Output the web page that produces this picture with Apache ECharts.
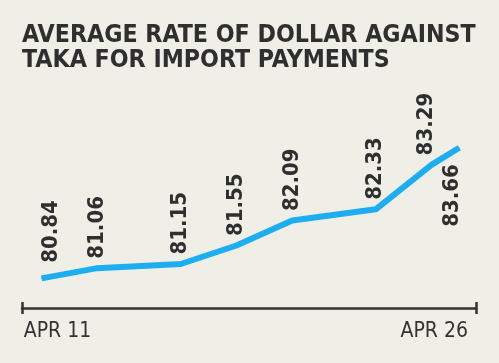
<!DOCTYPE html>
<html><head><meta charset="utf-8">
<script src="https://cdn.jsdelivr.net/npm/echarts@6/dist/echarts.min.js"></script>
<style>html,body{margin:0;padding:0;background:#efeee7;}#c{width:499px;height:363px;}</style>
</head><body><div id="c"></div>
<script>
// Day of April for each observation
const days = [11, 13, 16, 18, 20, 23, 25, 26];
const rates = [80.84, 81.06, 81.15, 81.55, 82.09, 82.33, 83.29, 83.66];
const tickDays = [11, 26];
const tickLabels = ['APR 11', 'APR 26'];
const titleText = 'AVERAGE RATE OF DOLLAR AGAINST\nTAKA FOR IMPORT PAYMENTS';

const FONT = '"DejaVu Sans Condensed","Liberation Sans Narrow",sans-serif';
const chart = echarts.init(document.getElementById('c'), null, {renderer: 'canvas'});

const data = days.map((d, i) => {
  const item = {value: [d, rates[i]]};
  if (i === 0) item.label = {offset: [6, 10]};
  if (i === days.length - 2) item.label = {offset: [0, -5]};
  if (i === days.length - 1) item.label = {position: 'bottom', align: 'right', distance: 16, offset: [0, -7]};
  return item;
});

const AX_MIN = 10.3, AX_MAX = 26.6;

chart.setOption({
  backgroundColor: '#efeee7',
  animation: false,
  title: {
    text: titleText,
    left: 17, top: 18,
    textStyle: {fontFamily: FONT, fontWeight: 'bold', fontSize: 24.7, lineHeight: 25, color: '#2f2f2f'}
  },
  grid: {left: 22, right: 23, top: 132, bottom: 55},
  xAxis: [{
    type: 'value', min: AX_MIN, max: AX_MAX,
    axisLine: {show: true, lineStyle: {color: '#333333', width: 2.5}},
    axisTick: {show: true, customValues: [AX_MIN, AX_MAX], inside: false, length: 6,
      lineStyle: {color: '#333333', width: 2.5}},
    splitLine: {show: false},
    axisLabel: {
      customValues: tickDays,
      formatter: v => (v === tickDays[0] ? '{a|' : '{b|') + tickLabels[tickDays.indexOf(v)] + '}',
      rich: {a: {padding: [0, 0, 0, 32]}, b: {padding: [0, 50, 0, 0]}},
      fontFamily: FONT, fontSize: 21, color: '#333333', margin: 13
    }
  }, {
    type: 'value', min: AX_MIN, max: AX_MAX, position: 'bottom',
    axisLine: {show: false},
    axisTick: {show: true, customValues: [AX_MIN, AX_MAX], inside: true, length: 6,
      lineStyle: {color: '#333333', width: 2.5}},
    axisLabel: {show: false},
    splitLine: {show: false}
  }],
  yAxis: {type: 'value', min: 80.2, max: 84, show: false, splitLine: {show: false}},
  series: [{
    type: 'line',
    data: data,
    symbol: 'circle', symbolSize: 1, showSymbol: true,
    itemStyle: {color: '#1eaef0'},
    lineStyle: {color: '#1eaef0', width: 6},
    label: {
      show: true, position: 'top', rotate: 90, distance: 9,
      align: 'left', verticalAlign: 'middle',
      formatter: p => p.value[1].toFixed(2),
      fontFamily: FONT, fontWeight: 'bold', fontSize: 22, color: '#2f2f2f'
    }
  }]
});
</script></body></html>
